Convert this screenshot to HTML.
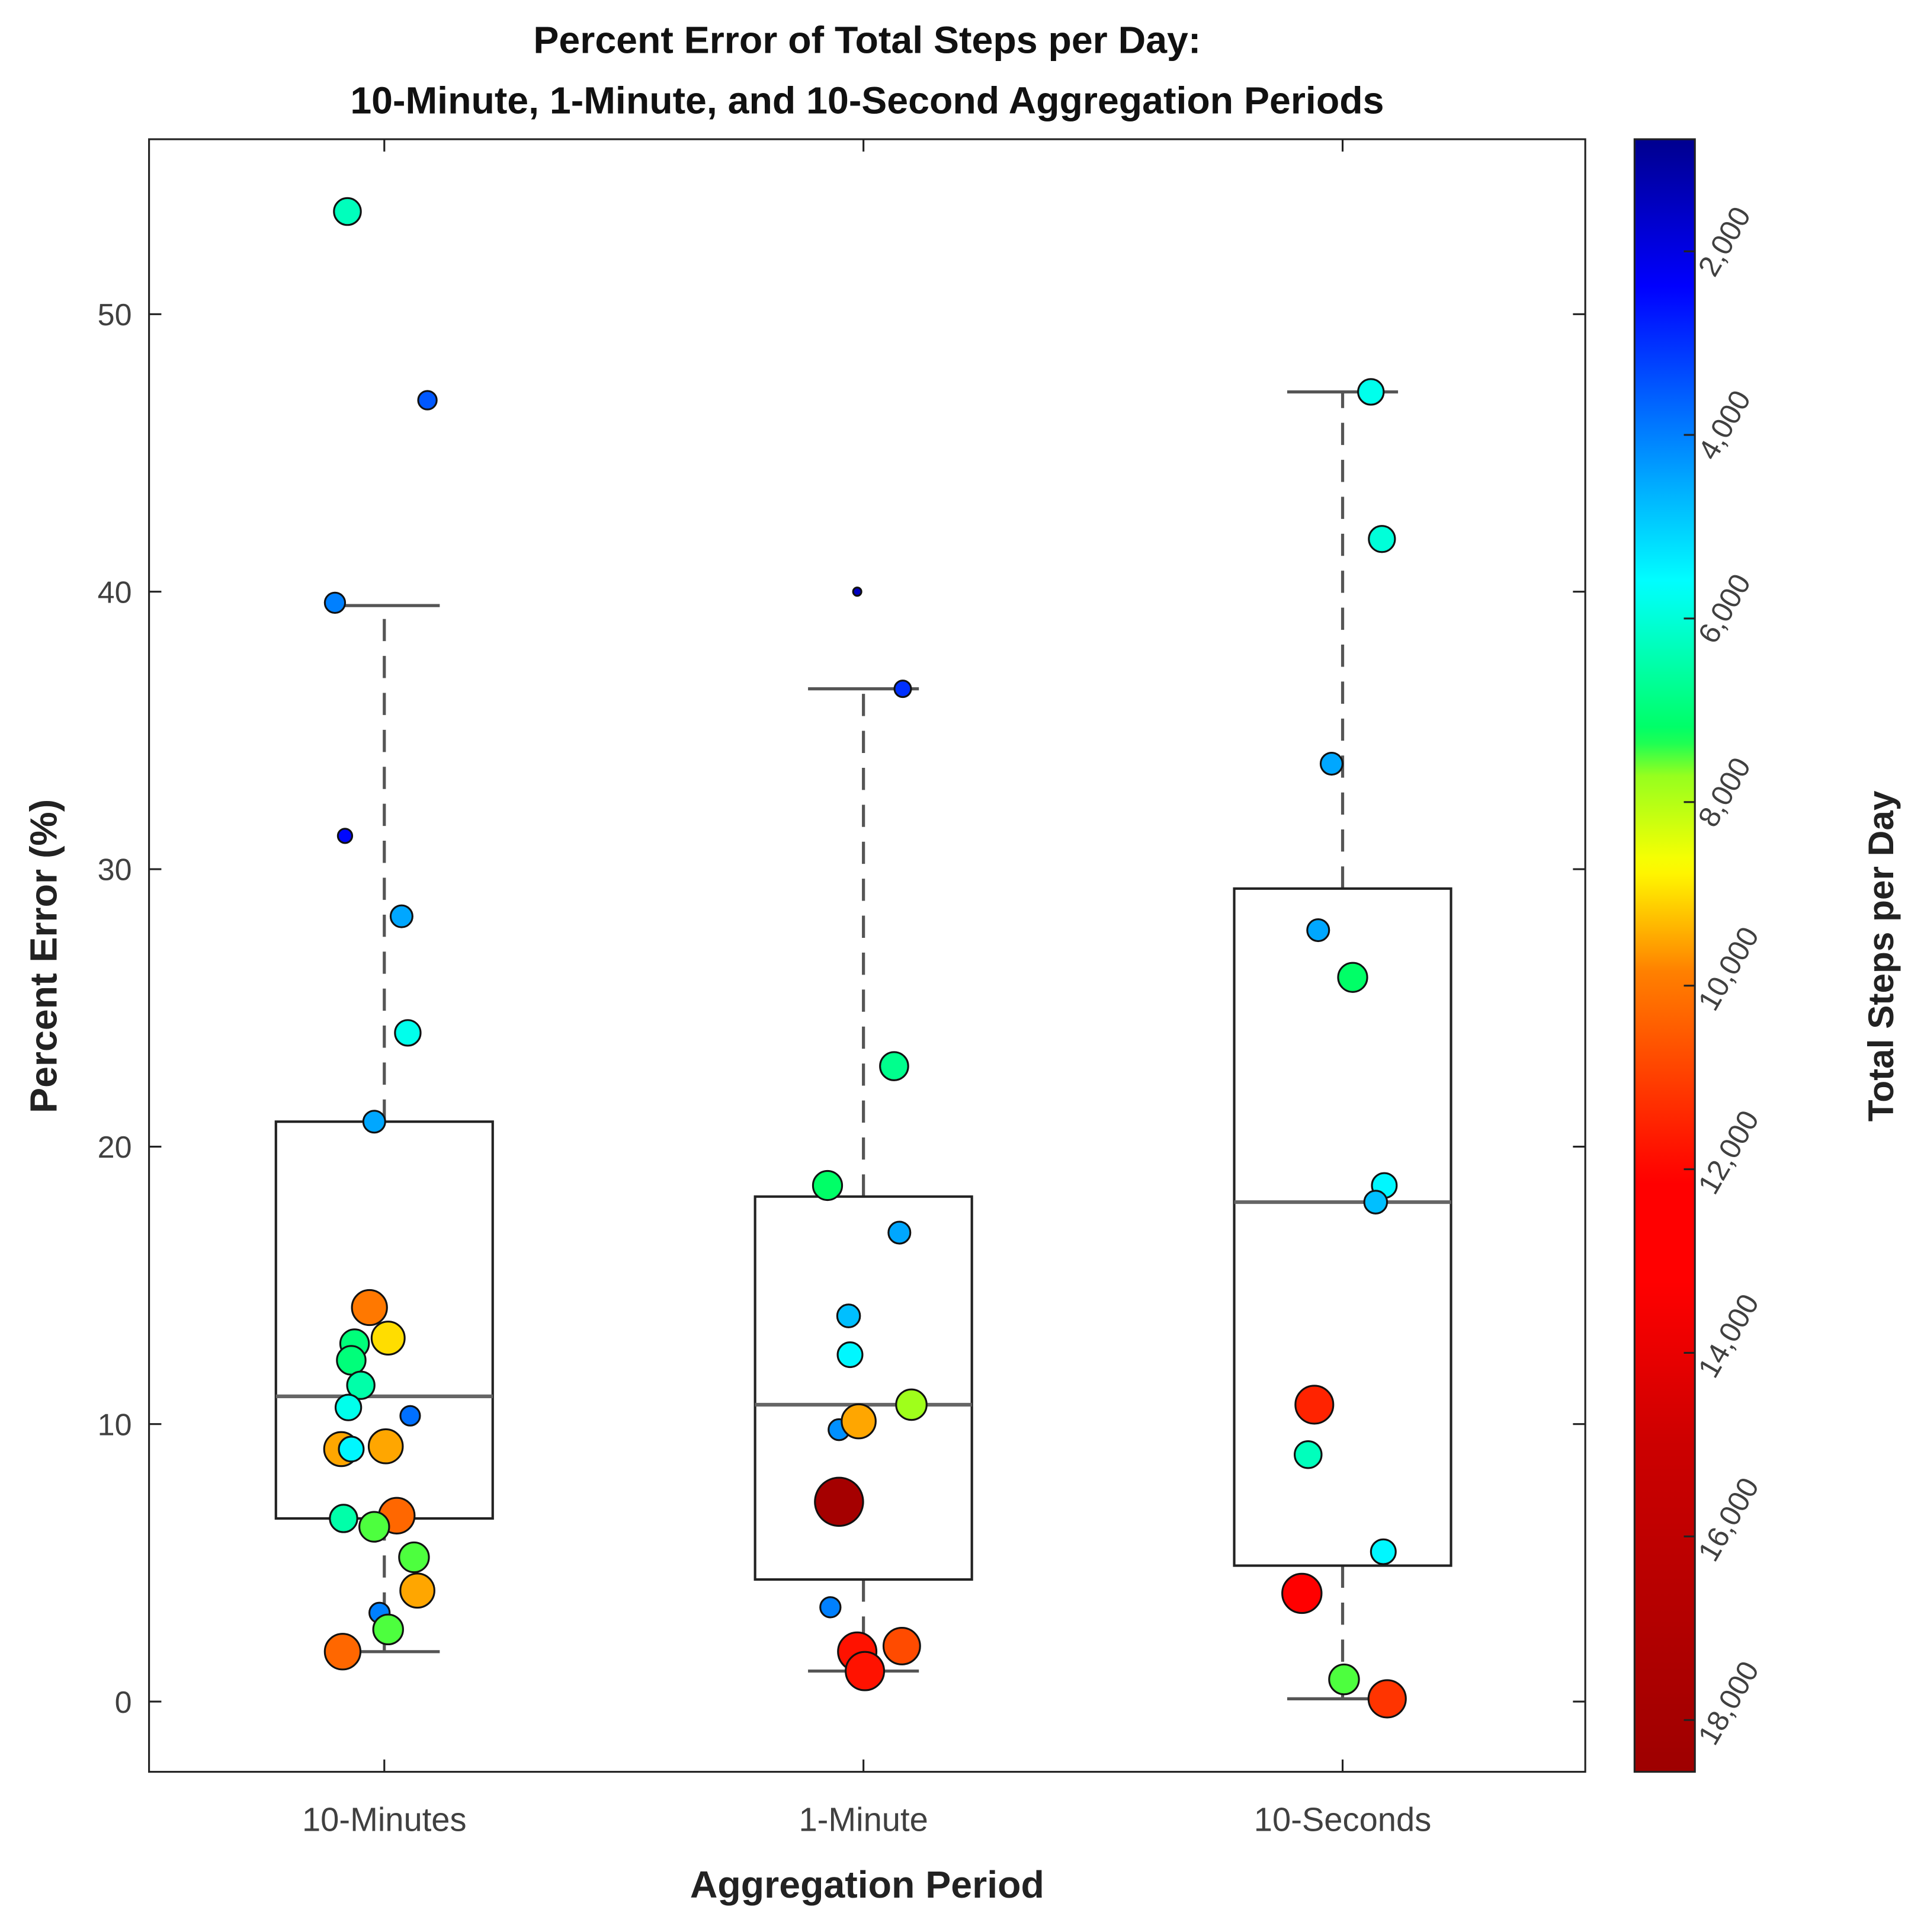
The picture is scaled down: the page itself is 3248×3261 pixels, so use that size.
<!DOCTYPE html>
<html><head><meta charset="utf-8"><style>
html,body{margin:0;padding:0;background:#fff;}
svg{display:block;font-family:"Liberation Sans",Arial,sans-serif;}
</style></head><body>
<svg id="chart" width="3248" height="3261" viewBox="0 0 1562 1568" preserveAspectRatio="none" xmlns="http://www.w3.org/2000/svg">
<rect width="1562" height="1568" fill="#fff"/>
<text x="704" y="43" text-anchor="middle" font-weight="bold" font-size="31" fill="#111">Percent Error of Total Steps per Day:</text>
<text x="704" y="92" text-anchor="middle" font-weight="bold" font-size="31" fill="#111">10-Minute, 1-Minute, and 10-Second Aggregation Periods</text>
<g id="plot"></g>
<rect x="121" y="113" width="1166" height="1325" fill="none" stroke="#222" stroke-width="1.5"/>
<text transform="translate(46,776) rotate(-90)" text-anchor="middle" font-weight="bold" font-size="31" fill="#222">Percent Error (%)</text>
<text x="704" y="1540" text-anchor="middle" font-weight="bold" font-size="31" fill="#222">Aggregation Period</text>
<g id="cbar"></g>
<text transform="translate(1537,776) rotate(-90)" text-anchor="middle" font-weight="bold" font-size="29" fill="#222">Total Steps per Day</text>
</svg>
<script>
const categories = ["10-Minutes","1-Minute","10-Seconds"];
const yTicks = [0,10,20,30,40,50];
const cbarTicks = [2000,4000,6000,8000,10000,12000,14000,16000,18000];
const cbarTickLabels = ["2,000","4,000","6,000","8,000","10,000","12,000","14,000","16,000","18,000"];
const boxQ1 = [6.6,4.4,4.9];
const boxMedian = [11.0,10.7,18.0];
const boxQ3 = [20.9,18.2,29.3];
const whiskerLow = [1.8,1.1,0.1];
const whiskerHigh = [39.5,36.5,47.2];
const pointCategory = [0,0,0,0,0,0,0,0,0,0,0,0,0,0,0,0,0,0,0,0,0,0,0,0,0,
 1,1,1,1,1,1,1,1,1,1,1,1,1,1,1,
 2,2,2,2,2,2,2,2,2,2,2,2,2];
const pointJitter = [-0.077,0.090,-0.103,-0.082,0.036,0.049,-0.021,-0.031,0.008,-0.062,-0.069,-0.049,-0.075,0.054,-0.090,0.003,-0.069,-0.085,0.026,-0.021,0.062,0.069,-0.010,0.008,-0.087,
 -0.013,0.082,0.064,-0.075,0.075,-0.031,-0.028,0.100,-0.051,-0.010,-0.051,-0.069,0.080,-0.013,0.003,
 0.059,0.082,-0.023,-0.051,0.021,0.087,0.069,-0.059,-0.072,0.085,-0.085,0.003,0.093];
const pointError = [53.7,46.9,39.6,31.2,28.3,24.1,20.9,14.2,13.1,12.9,12.3,11.4,10.6,10.3,9.1,9.2,9.1,6.6,6.7,6.3,5.2,4.0,3.2,2.6,1.8,
 40.0,36.5,22.9,18.6,16.9,13.9,12.5,10.7,9.8,10.1,7.2,3.4,2.0,1.8,1.1,
 47.2,41.9,33.8,27.8,26.1,18.6,18.0,10.7,8.9,5.4,3.9,0.8,0.1];
const pointSteps = [6300,3500,4000,2500,4500,5800,4500,10000,9000,7000,7000,6500,5800,3800,9500,9500,5500,6500,10300,7500,7500,9500,4000,7500,10300,
 1500,3000,6800,7200,4500,4800,5500,7800,4200,9500,18000,4000,10800,11800,11800,
 5800,6000,4500,4500,7200,5500,4800,11500,6300,5500,12300,7500,11200];

const NS="http://www.w3.org/2000/svg";
const X0=121,X1=1287,Y0=113,Y1=1438;
function xScale(i){return 312+i*389;}
function yScale(v){return 1381-v*22.52;}
const CMIN=779,CMAX=18564;
function cScale(s){return Y0+(s-CMIN)/(CMAX-CMIN)*(Y1-Y0);}
const cmapPos=[0,0.091,0.271,0.365,0.39,0.445,0.51,0.638,0.70,0.80,1];
const cmapRGB=[[0,0,143],[0,0,255],[0,255,255],[0,255,96],[150,255,30],[255,255,0],[255,128,0],[255,0,0],[255,0,0],[204,0,0],[158,0,0]];
function cmap(t){
  t=Math.max(0,Math.min(1,t));
  for(let i=1;i<cmapPos.length;i++){
    if(t<=cmapPos[i]){const f=(t-cmapPos[i-1])/(cmapPos[i]-cmapPos[i-1]);const a=cmapRGB[i-1],b=cmapRGB[i];
      return `rgb(${Math.round(a[0]+(b[0]-a[0])*f)},${Math.round(a[1]+(b[1]-a[1])*f)},${Math.round(a[2]+(b[2]-a[2])*f)})`;}
  }
  const l=cmapRGB[cmapRGB.length-1];return `rgb(${l[0]},${l[1]},${l[2]})`;
}
function stepColor(s){return cmap((s-CMIN)/(CMAX-CMIN));}
function mk(tag,attrs,parent){const e=document.createElementNS(NS,tag);for(const k in attrs)e.setAttribute(k,attrs[k]);parent.appendChild(e);return e;}
const plot=document.getElementById('plot');

yTicks.forEach((v,i)=>{
  const y=yScale(v);
  const l=mk('line',{x1:X0,x2:X0+10,y1:y,y2:y,stroke:'#222','stroke-width':1.5},plot);
  
  
  const r=mk('line',{x1:X1-10,x2:X1,y1:y,y2:y,stroke:'#222','stroke-width':1.5},plot);
  
  
  const t=mk('text',{x:X0-14,y:y+9,'text-anchor':'end','font-size':25,fill:'#404040'},plot);
  t.textContent=v;
  
  
});
categories.forEach((c,i)=>{
  const x=xScale(i);
  const b=mk('line',{x1:x,x2:x,y1:Y1,y2:Y1-10,stroke:'#222','stroke-width':1.5},plot);
  
  
  const tp=mk('line',{x1:x,x2:x,y1:Y0,y2:Y0+10,stroke:'#222','stroke-width':1.5},plot);
  
  
  const t=mk('text',{x:x,y:1486,'text-anchor':'middle','font-size':27,fill:'#404040'},plot);
  t.textContent=c;
  
  
  const hw=88;
  const dl=mk('line',{x1:x,x2:x,y1:yScale(boxQ3[i]),y2:yScale(whiskerHigh[i]),stroke:'#555','stroke-width':2.5,'stroke-dasharray':'18,12'},plot);
  
  
  const dl2=mk('line',{x1:x,x2:x,y1:yScale(boxQ1[i]),y2:yScale(whiskerLow[i]),stroke:'#555','stroke-width':2.5,'stroke-dasharray':'18,12'},plot);
  
  
  const cu=mk('line',{x1:x-45,x2:x+45,y1:yScale(whiskerHigh[i]),y2:yScale(whiskerHigh[i]),stroke:'#555','stroke-width':2.5},plot);
  
  
  const cl=mk('line',{x1:x-45,x2:x+45,y1:yScale(whiskerLow[i]),y2:yScale(whiskerLow[i]),stroke:'#555','stroke-width':2.5},plot);
  
  
  const bx=mk('rect',{x:x-hw,y:yScale(boxQ3[i]),width:2*hw,height:yScale(boxQ1[i])-yScale(boxQ3[i]),fill:'none',stroke:'#222','stroke-width':2},plot);
  
  
  const md=mk('line',{x1:x-hw,x2:x+hw,y1:yScale(boxMedian[i]),y2:yScale(boxMedian[i]),stroke:'#666','stroke-width':3},plot);
  
  
});
pointError.forEach((v,k)=>{
  const s=pointSteps[k];
  const r=Math.sqrt(Math.max(s-1000,100))*0.15;
  const c=mk('circle',{cx:xScale(pointCategory[k]+pointJitter[k]),cy:yScale(v),r:r,fill:stepColor(s),stroke:'#111','stroke-width':1.5},plot);
  
  
});

const cb=document.getElementById('cbar');
const defs=mk('defs',{},cb);
const grad=mk('linearGradient',{id:'jetg',x1:0,y1:0,x2:0,y2:1},defs);
for(let i=0;i<=100;i++){mk('stop',{offset:i/100,'stop-color':cmap(i/100)},grad);}
const cr=mk('rect',{x:1327,y:Y0,width:49,height:Y1-Y0,fill:'url(#jetg)',stroke:'#222','stroke-width':1.5},cb);


cbarTicks.forEach((s,i)=>{
  const y=cScale(s);
  const b=mk('line',{x1:1367,x2:1376,y1:y,y2:y,stroke:'#222','stroke-width':1.5},cb);
  
  
  const t=mk('text',{transform:`translate(1392,${y+22}) rotate(-60)`,'font-size':24,fill:'#404040'},cb);
  t.textContent=cbarTickLabels[i];
  
  
});
</script>
</body></html>
